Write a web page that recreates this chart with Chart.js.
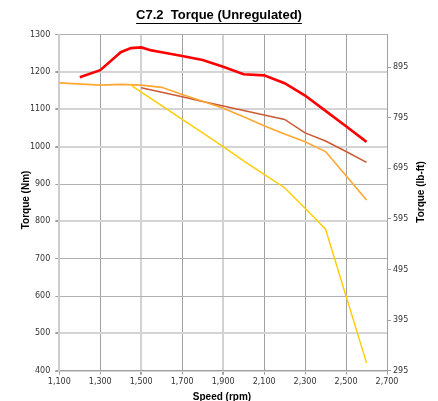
<!DOCTYPE html>
<html>
<head>
<meta charset="utf-8">
<script src="https://cdn.jsdelivr.net/npm/chart.js@4"></script>
<style>
  html, body { margin: 0; padding: 0; background: #fff; }
  #wrap { width: 438px; height: 401px; }
</style>
</head>
<body>
<div id="wrap"><canvas id="torqueChart" width="438" height="401"></canvas></div>
<script>
// x ticks, y ticks
var speedTicks = [1100, 1300, 1500, 1700, 1900, 2100, 2300, 2500, 2700];
var lbftTicks = [295, 395, 495, 595, 695, 795, 895];

// series (rpm / Nm)
var redRpm = [1200, 1300, 1400, 1450, 1500, 1550, 1600, 1700, 1800, 1900, 2000, 2100, 2200, 2300, 2400, 2500, 2600];
var redNm = [1186, 1205, 1253, 1264, 1266, 1258, 1253, 1243, 1232, 1214, 1194, 1191, 1170, 1137, 1096, 1055, 1013];

var orangeRpm = [1100, 1300, 1400, 1500, 1600, 1700, 1800, 1900, 2000, 2100, 2200, 2300, 2400, 2500, 2600];
var orangeNm = [1171, 1165, 1167, 1165, 1159, 1140, 1122, 1103, 1080, 1056, 1034, 1013, 987, 922, 857];

var brownRpm = [1500, 1600, 1700, 1800, 1900, 2000, 2100, 2200, 2300, 2400, 2500, 2600];
var brownNm = [1158, 1146, 1134, 1121, 1109, 1097, 1085, 1073, 1037, 1015, 987, 958];

var goldRpm = [1450, 1500, 1600, 1700, 1800, 1900, 2000, 2100, 2200, 2300, 2400, 2500, 2600];
var goldNm = [1165, 1146, 1110, 1073, 1037, 1000, 962, 926, 890, 835, 779, 600, 421];

var NM_TO_LBFT = 0.73756;

function pts(xs, ys) {
    return xs.map(function (x, i) { return { x: x, y: ys[i] }; });
}

function series(xs, ys, color, width) {
    return {
        data: pts(xs, ys),
        borderColor: color,
        borderWidth: width,
        pointRadius: 0,
        tension: 0,
        fill: false
    };
}

var lightVert = [1500, 1900];
var darkHoriz = [900, 700, 600, 1300];

// underline under title + axis titles
var extras = {
    id: 'extras',
    afterDraw: function (chart) {
        var ctx = chart.ctx;
        var t = chart.titleBlock;
        ctx.save();
        ctx.font = 'bold 13px "Liberation Sans", Arial, sans-serif';
        var w = ctx.measureText(t.options.text).width;
        var cx = (t.left + t.right) / 2;
        ctx.strokeStyle = '#000';
        ctx.lineWidth = 1;
        ctx.beginPath();
        ctx.moveTo(cx - w / 2, 23.5);
        ctx.lineTo(cx + w / 2, 23.5);
        ctx.stroke();

        ctx.fillStyle = '#000';
        ctx.font = 'bold 10px "Liberation Sans", Arial, sans-serif';
        ctx.textAlign = 'center';
        ctx.textBaseline = 'middle';
        ctx.fillText('Speed (rpm)', 222, 397);

        ctx.save();
        ctx.translate(26, 200);
        ctx.rotate(-Math.PI / 2);
        ctx.fillText('Torque (Nm)', 0, 0);
        ctx.restore();

        ctx.save();
        ctx.translate(421.5, 192);
        ctx.rotate(-Math.PI / 2);
        ctx.fillText('Torque (lb-ft)', 0, 0);
        ctx.restore();
        ctx.restore();
    }
};

var ctx = document.getElementById('torqueChart').getContext('2d');
new Chart(ctx, {
    type: 'line',
    data: {
        datasets: [
            series(goldRpm, goldNm, '#ffcc00', 1.4),
            series(orangeRpm, orangeNm, '#ffa733', 1.6),
            series(brownRpm, brownNm, '#cc5a33', 1.6),
            series(redRpm, redNm, '#ff0000', 2.6)
        ]
    },
    options: {
        responsive: false,
        animation: false,
        layout: { padding: 0 },
        plugins: {
            legend: { display: false },
            tooltip: { enabled: false },
            title: {
                display: true,
                text: 'C7.2  Torque (Unregulated)',
                color: '#000',
                font: { family: '"Liberation Sans", Arial, sans-serif', size: 13, weight: 'bold' },
                padding: { top: 8, bottom: 11.1 }
            }
        },
        scales: {
            x: {
                type: 'linear',
                min: 1100,
                max: 2700,
                afterBuildTicks: function (s) { s.ticks = speedTicks.map(function (v) { return { value: v }; }); },
                afterFit: function (s) { s.height = 30.3; },
                grid: {
                    color: function (c) { return lightVert.indexOf(c.tick && c.tick.value) >= 0 ? '#d2d2d2' : '#a0a0a0'; },
                    lineWidth: function (c) { return lightVert.indexOf(c.tick && c.tick.value) >= 0 ? 2 : 1; },
                    tickColor: '#a0a0a0',
                    tickLength: 4
                },
                border: { color: '#a0a0a0', width: 1 },
                ticks: {
                    color: '#333',
                    padding: 2,
                    maxRotation: 0,
                    font: { family: '"DejaVu Sans", Verdana, sans-serif', size: 8 },
                    callback: function (v) { return v.toLocaleString('en-US'); }
                }
            },
            y: {
                position: 'left',
                min: 400,
                max: 1300,
                afterFit: function (s) { s.width = 59.3; },
                grid: {
                    color: function (c) { return darkHoriz.indexOf(c.tick && c.tick.value) >= 0 ? '#b0b0b0' : '#d4d4d4'; },
                    lineWidth: function (c) { return darkHoriz.indexOf(c.tick && c.tick.value) >= 0 ? 1 : 2; },
                    tickColor: '#a0a0a0',
                    tickLength: 4
                },
                border: { color: '#cccccc', width: 2 },
                ticks: {
                    stepSize: 100,
                    color: '#333',
                    padding: 5,
                    font: { family: '"DejaVu Sans", Verdana, sans-serif', size: 8 },
                    callback: function (v) { return String(v); }
                }
            },
            y2: {
                position: 'right',
                min: 400 * NM_TO_LBFT,
                max: 1300 * NM_TO_LBFT,
                afterBuildTicks: function (s) { s.ticks = lbftTicks.map(function (v) { return { value: v }; }); },
                afterFit: function (s) { s.width = 51; },
                grid: { drawOnChartArea: false, tickColor: '#a0a0a0', tickLength: 4 },
                border: { color: '#a0a0a0', width: 1 },
                ticks: {
                    color: '#333',
                    padding: 2,
                    font: { family: '"DejaVu Sans", Verdana, sans-serif', size: 8 },
                    callback: function (v) { return Math.round(v); }
                }
            }
        }
    },
    plugins: [extras]
});
</script>
</body>
</html>
